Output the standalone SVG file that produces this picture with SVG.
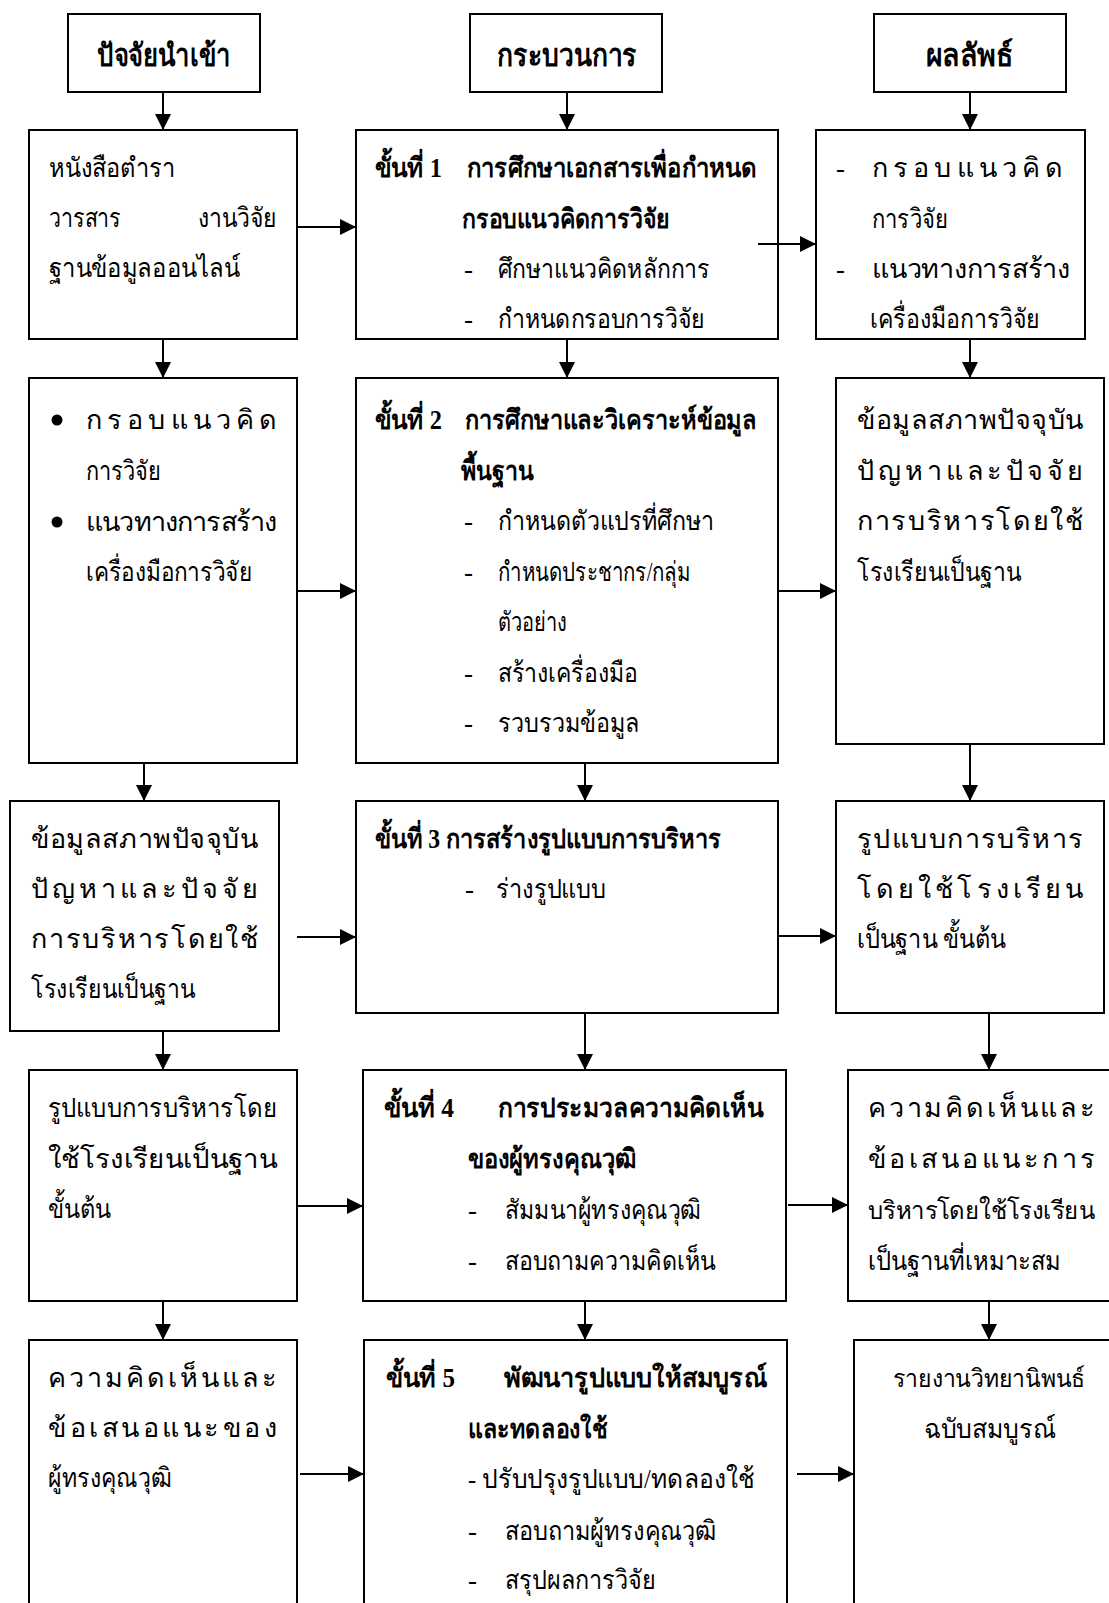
<svg xmlns="http://www.w3.org/2000/svg" width="1109" height="1603" viewBox="0 0 1109 1603">
<defs>
<style>
.box{fill:#fff;stroke:#000;stroke-width:2}
.open{fill:none;stroke:#000;stroke-width:2}
.t{font-family:"Liberation Serif","Noto Sans",serif;font-size:27px;fill:#000}
.s{font-size:25px}
.b{font-weight:bold}
.h{font-family:"Liberation Serif","Noto Sans",serif;font-size:31px;font-weight:bold;fill:#000}
.c{stroke:#000;stroke-width:2;fill:none;marker-end:url(#ah)}
</style>
<marker id="ah" markerUnits="userSpaceOnUse" markerWidth="16" markerHeight="16" viewBox="0 0 16 16" refX="16" refY="8" orient="auto"><path d="M0,0 L16,8 L0,16 Z" fill="#000"/></marker>
</defs>
<rect width="1109" height="1603" fill="#fff"/>

<g id="h1"><rect class="box" x="68" y="14" width="192" height="78"/><text class="h" x="97" y="66" textLength="133" lengthAdjust="spacingAndGlyphs">ปัจจัยนำเข้า</text></g>
<g id="h2"><rect class="box" x="470" y="14" width="192" height="78"/><text class="h" x="497" y="66" textLength="140" lengthAdjust="spacingAndGlyphs">กระบวนการ</text></g>
<g id="h3"><rect class="box" x="874" y="14" width="192" height="78"/><text class="h" x="926" y="66" textLength="87" lengthAdjust="spacingAndGlyphs">ผลลัพธ์</text></g>

<g id="L1"><rect class="box" x="29" y="130" width="268" height="209"/>
<text class="t" x="49" y="177" textLength="126" lengthAdjust="spacingAndGlyphs">หนังสือตำรา</text>
<text class="t" x="49" y="227" textLength="72" lengthAdjust="spacingAndGlyphs">วารสาร</text>
<text class="t" x="198" y="227" textLength="79" lengthAdjust="spacingAndGlyphs">งานวิจัย</text>
<text class="t" x="49" y="277" textLength="191" lengthAdjust="spacingAndGlyphs">ฐานข้อมูลออนไลน์</text></g>

<g id="M1"><rect class="box" x="356" y="130" width="422" height="209"/>
<text class="t b" x="375" y="177" textLength="67" lengthAdjust="spacingAndGlyphs">ขั้นที่ 1</text>
<text class="t b" x="467" y="177" textLength="290" lengthAdjust="spacingAndGlyphs">การศึกษาเอกสารเพื่อกำหนด</text>
<text class="t b" x="462" y="228" textLength="208" lengthAdjust="spacingAndGlyphs">กรอบแนวคิดการวิจัย</text>
<text class="t" x="464" y="278">-</text>
<text class="t" x="498" y="278" textLength="212" lengthAdjust="spacingAndGlyphs">ศึกษาแนวคิดหลักการ</text>
<text class="t" x="464" y="328">-</text>
<text class="t" x="498" y="328" textLength="207" lengthAdjust="spacingAndGlyphs">กำหนดกรอบการวิจัย</text></g>

<g id="R1"><rect class="box" x="816" y="130" width="269" height="209"/>
<text class="t" x="836" y="177">-</text>
<text class="t" x="872" y="177" textLength="191" lengthAdjust="spacing">กรอบแนวคิด</text>
<text class="t" x="872" y="228" textLength="76" lengthAdjust="spacingAndGlyphs">การวิจัย</text>
<text class="t" x="836" y="278">-</text>
<text class="t" x="872" y="278" textLength="198" lengthAdjust="spacing">แนวทางการสร้าง</text>
<text class="t" x="870" y="328" textLength="170" lengthAdjust="spacingAndGlyphs">เครื่องมือการวิจัย</text></g>

<g id="L2"><rect class="box" x="29" y="378" width="268" height="385"/>
<circle cx="57" cy="420" r="5.5"/>
<text class="t" x="86" y="429" textLength="191" lengthAdjust="spacing">กรอบแนวคิด</text>
<text class="t" x="86" y="480" textLength="75" lengthAdjust="spacingAndGlyphs">การวิจัย</text>
<circle cx="57" cy="522" r="5.5"/>
<text class="t" x="86" y="531" textLength="191" lengthAdjust="spacing">แนวทางการสร้าง</text>
<text class="t" x="86" y="581" textLength="166" lengthAdjust="spacingAndGlyphs">เครื่องมือการวิจัย</text></g>

<g id="M2"><rect class="box" x="356" y="378" width="422" height="385"/>
<text class="t b" x="375" y="429" textLength="67" lengthAdjust="spacingAndGlyphs">ขั้นที่ 2</text>
<text class="t b" x="465" y="429" textLength="292" lengthAdjust="spacingAndGlyphs">การศึกษาและวิเคราะห์ข้อมูล</text>
<text class="t b" x="461" y="480" textLength="72" lengthAdjust="spacingAndGlyphs">พื้นฐาน</text>
<text class="t" x="464" y="530">-</text>
<text class="t" x="498" y="530" textLength="216" lengthAdjust="spacingAndGlyphs">กำหนดตัวแปรที่ศึกษา</text>
<text class="t" x="464" y="581">-</text>
<text class="t" x="498" y="581" textLength="193" lengthAdjust="spacingAndGlyphs">กำหนดประชากร/กลุ่ม</text>
<text class="t" x="498" y="631" textLength="69" lengthAdjust="spacingAndGlyphs">ตัวอย่าง</text>
<text class="t" x="464" y="682">-</text>
<text class="t" x="498" y="682" textLength="140" lengthAdjust="spacingAndGlyphs">สร้างเครื่องมือ</text>
<text class="t" x="464" y="732">-</text>
<text class="t" x="498" y="732" textLength="142" lengthAdjust="spacingAndGlyphs">รวบรวมข้อมูล</text></g>

<g id="R2"><rect class="box" x="836" y="378" width="268" height="366"/>
<text class="t" x="857" y="429" textLength="226" lengthAdjust="spacing">ข้อมูลสภาพปัจจุบัน</text>
<text class="t" x="857" y="480" textLength="226" lengthAdjust="spacing">ปัญหาและปัจจัย</text>
<text class="t" x="857" y="530" textLength="226" lengthAdjust="spacing">การบริหารโดยใช้</text>
<text class="t" x="857" y="581" textLength="164" lengthAdjust="spacingAndGlyphs">โรงเรียนเป็นฐาน</text></g>

<g id="L3"><rect class="box" x="10" y="801" width="269" height="230"/>
<text class="t" x="31" y="848" textLength="227" lengthAdjust="spacing">ข้อมูลสภาพปัจจุบัน</text>
<text class="t" x="31" y="898" textLength="227" lengthAdjust="spacing">ปัญหาและปัจจัย</text>
<text class="t" x="31" y="948" textLength="227" lengthAdjust="spacing">การบริหารโดยใช้</text>
<text class="t" x="31" y="998" textLength="164" lengthAdjust="spacingAndGlyphs">โรงเรียนเป็นฐาน</text></g>

<g id="M3"><rect class="box" x="356" y="801" width="422" height="212"/>
<text class="t b" x="375" y="848" textLength="346" lengthAdjust="spacingAndGlyphs">ขั้นที่ 3 การสร้างรูปแบบการบริหาร</text>
<text class="t" x="465" y="898">-</text>
<text class="t" x="496" y="898" textLength="110" lengthAdjust="spacingAndGlyphs">ร่างรูปแบบ</text></g>

<g id="R3"><rect class="box" x="836" y="801" width="268" height="212"/>
<text class="t" x="857" y="848" textLength="226" lengthAdjust="spacing">รูปแบบการบริหาร</text>
<text class="t" x="857" y="898" textLength="226" lengthAdjust="spacing">โดยใช้โรงเรียน</text>
<text class="t" x="857" y="948" textLength="149" lengthAdjust="spacingAndGlyphs">เป็นฐาน ขั้นต้น</text></g>

<g id="L4"><rect class="box" x="29" y="1070" width="268" height="231"/>
<text class="t" x="48" y="1117" textLength="229" lengthAdjust="spacingAndGlyphs">รูปแบบการบริหารโดย</text>
<text class="t" x="48" y="1168" textLength="229" lengthAdjust="spacingAndGlyphs">ใช้โรงเรียนเป็นฐาน</text>
<text class="t" x="48" y="1218" textLength="63" lengthAdjust="spacingAndGlyphs">ขั้นต้น</text></g>

<g id="M4"><rect class="box" x="363" y="1070" width="423" height="231"/>
<text class="t b" x="384" y="1117" textLength="70" lengthAdjust="spacingAndGlyphs">ขั้นที่ 4</text>
<text class="t b" x="498" y="1117" textLength="265" lengthAdjust="spacingAndGlyphs">การประมวลความคิดเห็น</text>
<text class="t b" x="468" y="1168" textLength="168" lengthAdjust="spacingAndGlyphs">ของผู้ทรงคุณวุฒิ</text>
<text class="t" x="468" y="1219">-</text>
<text class="t" x="505" y="1219" textLength="196" lengthAdjust="spacingAndGlyphs">สัมมนาผู้ทรงคุณวุฒิ</text>
<text class="t" x="468" y="1270">-</text>
<text class="t" x="505" y="1270" textLength="211" lengthAdjust="spacingAndGlyphs">สอบถามความคิดเห็น</text></g>

<g id="R4"><path class="open" d="M1109,1070 H848 V1301 H1109"/>
<text class="t" x="868" y="1117" textLength="227" lengthAdjust="spacing">ความคิดเห็นและ</text>
<text class="t" x="868" y="1168" textLength="227" lengthAdjust="spacing">ข้อเสนอแนะการ</text>
<text class="t s" x="868" y="1219" textLength="227" lengthAdjust="spacingAndGlyphs">บริหารโดยใช้โรงเรียน</text>
<text class="t" x="868" y="1270" textLength="193" lengthAdjust="spacingAndGlyphs">เป็นฐานที่เหมาะสม</text></g>

<g id="L5"><path class="open" d="M29,1603 V1340 H297 V1603"/>
<text class="t" x="48" y="1387" textLength="229" lengthAdjust="spacing">ความคิดเห็นและ</text>
<text class="t" x="48" y="1437" textLength="229" lengthAdjust="spacing">ข้อเสนอแนะของ</text>
<text class="t" x="48" y="1487" textLength="123" lengthAdjust="spacingAndGlyphs">ผู้ทรงคุณวุฒิ</text></g>

<g id="M5"><path class="open" d="M364,1603 V1340 H787 V1603"/>
<text class="t b" x="386" y="1387" textLength="69" lengthAdjust="spacingAndGlyphs">ขั้นที่ 5</text>
<text class="t b" x="504" y="1387" textLength="263" lengthAdjust="spacingAndGlyphs">พัฒนารูปแบบให้สมบูรณ์</text>
<text class="t b" x="468" y="1438" textLength="139" lengthAdjust="spacingAndGlyphs">และทดลองใช้</text>
<text class="t" x="468" y="1488" textLength="286" lengthAdjust="spacingAndGlyphs">- ปรับปรุงรูปแบบ/ทดลองใช้</text>
<text class="t" x="468" y="1540">-</text>
<text class="t" x="505" y="1540" textLength="211" lengthAdjust="spacingAndGlyphs">สอบถามผู้ทรงคุณวุฒิ</text>
<text class="t" x="468" y="1589">-</text>
<text class="t" x="505" y="1589" textLength="151" lengthAdjust="spacingAndGlyphs">สรุปผลการวิจัย</text></g>

<g id="R5"><path class="open" d="M1109,1340 H854 V1603"/>
<text class="t s" x="989" y="1387" text-anchor="middle" textLength="192" lengthAdjust="spacingAndGlyphs">รายงานวิทยานิพนธ์</text>
<text class="t" x="990" y="1438" text-anchor="middle" textLength="132" lengthAdjust="spacingAndGlyphs">ฉบับสมบูรณ์</text></g>

<g id="connectors">
<line class="c" x1="163" y1="92" x2="163" y2="130"/>
<line class="c" x1="567" y1="92" x2="567" y2="130"/>
<line class="c" x1="970" y1="92" x2="970" y2="130"/>
<line class="c" x1="297" y1="227" x2="356" y2="227"/>
<line class="c" x1="758" y1="244" x2="816" y2="244"/>
<line class="c" x1="163" y1="339" x2="163" y2="378"/>
<line class="c" x1="567" y1="339" x2="567" y2="378"/>
<line class="c" x1="970" y1="339" x2="970" y2="378"/>
<line class="c" x1="297" y1="591" x2="356" y2="591"/>
<line class="c" x1="778" y1="591" x2="836" y2="591"/>
<line class="c" x1="144" y1="763" x2="144" y2="801"/>
<line class="c" x1="585" y1="763" x2="585" y2="801"/>
<line class="c" x1="970" y1="744" x2="970" y2="801"/>
<line class="c" x1="297" y1="937" x2="356" y2="937"/>
<line class="c" x1="778" y1="936" x2="836" y2="936"/>
<line class="c" x1="163" y1="1031" x2="163" y2="1070"/>
<line class="c" x1="585" y1="1013" x2="585" y2="1070"/>
<line class="c" x1="989" y1="1013" x2="989" y2="1070"/>
<line class="c" x1="297" y1="1206" x2="363" y2="1206"/>
<line class="c" x1="788" y1="1205" x2="848" y2="1205"/>
<line class="c" x1="163" y1="1301" x2="163" y2="1340"/>
<line class="c" x1="585" y1="1301" x2="585" y2="1340"/>
<line class="c" x1="989" y1="1301" x2="989" y2="1340"/>
<line class="c" x1="300" y1="1474" x2="364" y2="1474"/>
<line class="c" x1="797" y1="1474" x2="854" y2="1474"/>
</g>
</svg>
